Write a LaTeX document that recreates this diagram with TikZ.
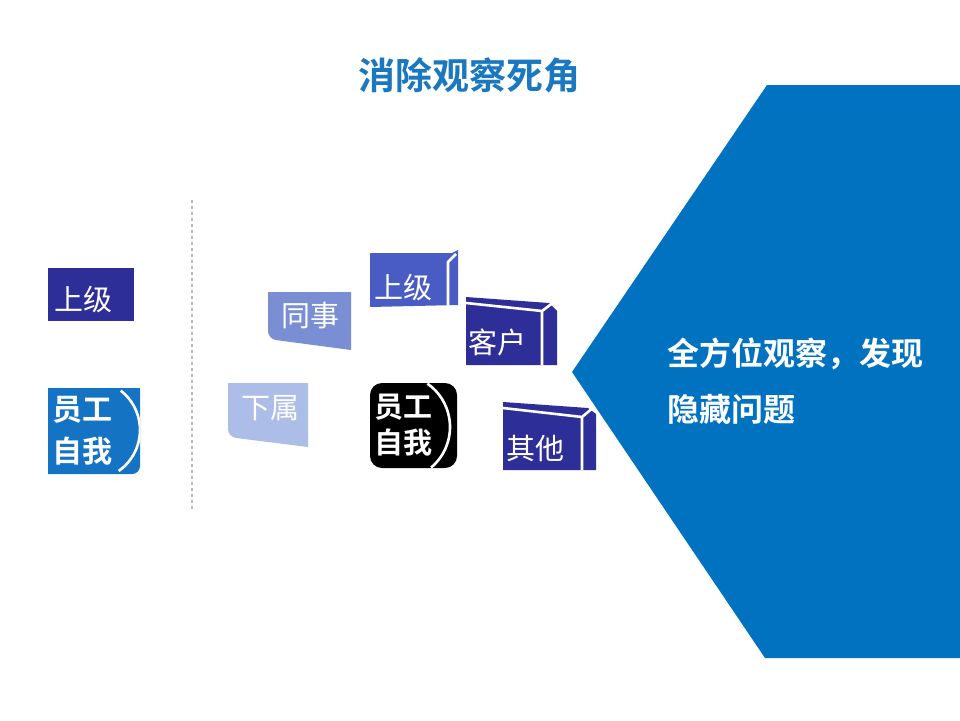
\documentclass[tikz,border=0pt]{standalone}
\usepackage{fontspec}
\newfontfamily\cjk{Noto Sans CJK SC}[BoldFont={Noto Sans CJK SC Bold}]
\definecolor{mainblue}{RGB}{0,114,192}
\definecolor{titleblue}{RGB}{26,120,192}
\definecolor{navy}{RGB}{46,46,152}
\definecolor{midblue}{RGB}{72,92,196}
\definecolor{lightblue}{RGB}{122,142,212}
\definecolor{paleblue}{RGB}{172,190,232}
\definecolor{selfblue}{RGB}{20,115,195}
\begin{document}
\begin{tikzpicture}[x=1pt, y=-1pt,
    lbl/.style={text=white, inner sep=0pt, font=\cjk\fontsize{29}{30}\selectfont},
    selflbl/.style={text=white, inner sep=0pt, align=left, anchor=west},
    edge/.style={white, line width=2.6pt}]
  \useasboundingbox[fill=white] (0,0) rectangle (960,720);
  \fill[mainblue] (767,85) -- (960,85) -- (960,658) -- (765,658) -- (572,372) -- cycle;
  \node[text=titleblue, font=\cjk\bfseries\fontsize{37}{40}\selectfont] (title) at (469,75) {消除观察死角};
  \node[selflbl, font=\cjk\bfseries\fontsize{32}{56}\selectfont] (result) at (667,381) {全方位观察，发现\\隐藏问题};
  \draw[gray!55, line width=1.2pt, dash pattern=on 3pt off 3pt] (192,200) -- (192,510);
  % left column
  \fill[navy] (48,268) rectangle (134,321);
  \node[lbl] (boss) at (83,299) {上级};
  \fill[selfblue] (48,388) -- (140,388) [rounded corners=8pt] -- (140,474) [sharp corners] -- (48,474) -- cycle;
  \begin{scope}
    \clip (48,388) rectangle (140,474);
    \draw[edge] (90,430) ++(-55:50pt) arc[start angle=-55, end angle=52, radius=50pt];
  \end{scope}
  \node[selflbl, font=\cjk\bfseries\fontsize{30}{42}\selectfont] (self) at (52,431) {员工\\自我};
  % around the self
  \fill[lightblue] (268,292) -- (351,292) -- (351,350) [rounded corners=8pt] -- (268,339) [sharp corners] -- cycle;
  \node[lbl] (peer) at (310,316) {同事};
  \fill[paleblue] (228,383) -- (308,383) -- (308,447) [rounded corners=8pt] -- (228,437) [sharp corners] -- cycle;
  \node[lbl] (sub) at (270,408) {下属};
  \fill[midblue] (370,253) -- (452,253) -- (458,250) -- (458,305) -- (370,307) -- cycle;
  \draw[edge] (448,307) -- (448,262) -- (456,254);
  \node[lbl] (boss2) at (403,287) {上级};
  \fill[navy] (466,297) -- (549,303) -- (557,311) -- (557,365) -- (466,365) -- cycle;
  \draw[edge] (466,303) -- (542,311) -- (542,365) (542,311) -- (554,302);
  \node[lbl] (client) at (497,342) {客户};
  \fill[navy] (503,402) -- (588,408) -- (596,414) -- (596,470) -- (503,470) -- cycle;
  \draw[edge] (503,408) -- (582,417) -- (582,470) (582,417) -- (594,407);
  \node[lbl] (other) at (535,448) {其他};
  \fill[black, rounded corners=12pt] (370,383) rectangle (457,468);
  \begin{scope}
    \clip (370,383) rectangle (457,468);
    \draw[edge] (397,427) ++(-50:53pt) arc[start angle=-50, end angle=55, radius=53pt];
  \end{scope}
  \node[selflbl, font=\cjk\bfseries\fontsize{29}{36}\selectfont] (self2) at (374,425) {员工\\自我};
\end{tikzpicture}
\end{document}
